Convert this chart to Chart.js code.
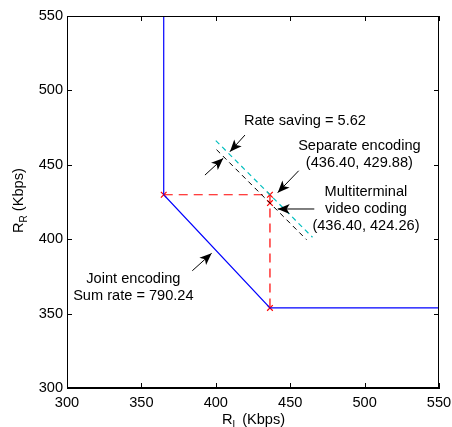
<!DOCTYPE html>
<html>
<head>
<meta charset="utf-8">
<script src="https://cdn.jsdelivr.net/npm/chart.js@4.4.1/dist/chart.umd.min.js"></script>
<style>
  html, body { margin: 0; padding: 0; background: #fff; }
  #wrap { width: 452px; height: 427px; }
</style>
</head>
<body>
<div id="wrap"><canvas id="chart" width="452" height="427"></canvas></div>
<script>
// rate region boundary (Kbps)
const boundaryX = [365, 365, 436.4, 550];
const boundaryY = [550, 429.88, 353.84, 353.84];

// separate encoding projection lines
const separateX = [365, 436.4, 436.4];
const separateY = [429.88, 429.88, 353.84];

// marked operating points
const markX = [365, 436.4, 436.4, 436.4];
const markY = [429.88, 429.88, 424.26, 353.84];

// equal sum-rate lines through the two operating points
const separateSumX = [400, 465];
const separateSumY = [466.28, 401.28];
const mtSumX = [400.5, 461];
const mtSumY = [460.16, 399.66];

const xTicks = [300, 350, 400, 450, 500, 550];
const yTicks = [300, 350, 400, 450, 500, 550];

// annotation text (centre in data coords) and arrows (tail -> tip)
const labels = [
  { x: 459.9, y: 479.4, lines: ['Rate saving = 5.62'] },
  { x: 496.5, y: 462.8, lines: ['Separate encoding', '(436.40, 429.88)'] },
  { x: 500.9, y: 431.5, lines: ['Multiterminal', 'video coding', '(436.40, 424.26)'] },
  { x: 344.6, y: 373.0, lines: ['Joint encoding', 'Sum rate = 790.24'] }
];
const arrows = [
  { x0: 419.6, y0: 470.0, x1: 409.5, y1: 458.8 },
  { x0: 392.7, y0: 443.1, x1: 405.0, y1: 454.4 },
  { x0: 455.7, y0: 446.0, x1: 441.6, y1: 431.3 },
  { x0: 466.2, y0: 420.3, x1: 441.6, y1: 420.3 },
  { x0: 384.2, y0: 378.8, x1: 397.2, y1: 390.5 }
];

const FONT = 'Liberation Sans, Arial, Helvetica, sans-serif';
const FS = 14.6;

function pts(xs, ys) {
  return xs.map((x, i) => ({ x: x, y: ys[i] }));
}

function arrowHead(ctx, x0, y0, x1, y1) {
  const a = Math.atan2(y1 - y0, x1 - x0);
  const len = 12, half = 5, back = 9;
  ctx.save();
  ctx.translate(x1, y1);
  ctx.rotate(a);
  ctx.beginPath();
  ctx.moveTo(0, 0);
  ctx.lineTo(-len, -half);
  ctx.lineTo(-back, 0);
  ctx.lineTo(-len, half);
  ctx.closePath();
  ctx.fill();
  ctx.restore();
}

const decorations = {
  id: 'decorations',
  afterDraw(chart) {
    const ctx = chart.ctx;
    const a = chart.chartArea;
    const sx = chart.scales.x, sy = chart.scales.y;
    ctx.save();

    // box + inward ticks
    ctx.strokeStyle = '#000';
    ctx.lineWidth = 1;
    ctx.strokeRect(Math.round(a.left) + 0.5, Math.round(a.top) + 0.5,
      Math.round(a.right - a.left) - 1, Math.round(a.bottom - a.top) - 1);
    ctx.beginPath();
    xTicks.forEach(v => {
      const px = Math.round(sx.getPixelForValue(v)) + 0.5;
      ctx.moveTo(px, a.bottom); ctx.lineTo(px, a.bottom - 5);
      ctx.moveTo(px, a.top); ctx.lineTo(px, a.top + 5);
    });
    yTicks.forEach(v => {
      const py = Math.round(sy.getPixelForValue(v)) + 0.5;
      ctx.moveTo(a.left, py); ctx.lineTo(a.left + 5, py);
      ctx.moveTo(a.right, py); ctx.lineTo(a.right - 5, py);
    });
    ctx.stroke();

    // axis titles with subscripts
    ctx.fillStyle = '#000';
    ctx.textBaseline = 'alphabetic';
    ctx.textAlign = 'left';
    const cx = (a.left + a.right) / 2;
    let x = cx - 31;
    const by = 424;
    ctx.font = FS + 'px ' + FONT;
    ctx.fillText('R', x, by);
    x += ctx.measureText('R').width;
    ctx.font = '10px ' + FONT;
    ctx.fillText('L', x, by + 4);
    x += ctx.measureText('L').width;
    ctx.font = FS + 'px ' + FONT;
    ctx.fillText(' (Kbps)', x, by);

    ctx.save();
    ctx.translate(23, (a.top + a.bottom) / 2);
    ctx.rotate(-Math.PI / 2);
    x = -31;
    ctx.font = FS + 'px ' + FONT;
    ctx.fillText('R', x, 0);
    x += ctx.measureText('R').width;
    ctx.font = '10px ' + FONT;
    ctx.fillText('R', x, 4);
    x += ctx.measureText('R').width;
    ctx.font = FS + 'px ' + FONT;
    ctx.fillText(' (Kbps)', x, 0);
    ctx.restore();

    // annotations
    ctx.font = FS + 'px ' + FONT;
    ctx.textAlign = 'center';
    ctx.textBaseline = 'middle';
    labels.forEach(l => {
      const px = sx.getPixelForValue(l.x);
      const py = sy.getPixelForValue(l.y);
      l.lines.forEach((t, i) => ctx.fillText(t, px, py + i * 16.8));
    });

    ctx.strokeStyle = '#000';
    ctx.lineWidth = 1;
    arrows.forEach(r => {
      const x0 = sx.getPixelForValue(r.x0), y0 = sy.getPixelForValue(r.y0);
      const x1 = sx.getPixelForValue(r.x1), y1 = sy.getPixelForValue(r.y1);
      ctx.beginPath();
      ctx.moveTo(x0, y0);
      ctx.lineTo(x1, y1);
      ctx.stroke();
      arrowHead(ctx, x0, y0, x1, y1);
    });

    ctx.restore();
  }
};

const lineSet = (data, color, dash, width) => ({
  data: data,
  showLine: true,
  borderColor: color,
  borderWidth: width || 1,
  borderDash: dash || [],
  pointRadius: 0,
  fill: false,
  tension: 0
});

new Chart(document.getElementById('chart'), {
  type: 'scatter',
  data: {
    datasets: [
      lineSet(pts(separateSumX, separateSumY), 'rgb(0,190,190)', [5, 4], 1.2),
      lineSet(pts(mtSumX, mtSumY), '#000', [5, 4], 1),
      lineSet(pts(separateX, separateY), 'rgb(255,0,0)', [9, 6], 1.2),
      lineSet(pts(boundaryX, boundaryY), 'rgb(0,0,255)', [], 1.2),
      {
        data: pts(markX, markY),
        showLine: false,
        pointStyle: 'crossRot',
        pointRadius: 4,
        pointBorderColor: 'rgb(255,0,0)',
        pointBorderWidth: 1.2
      }
    ]
  },
  options: {
    responsive: false,
    animation: false,
    layout: { padding: { top: 16, right: 13, left: 0, bottom: 0 } },
    plugins: { legend: { display: false }, tooltip: { enabled: false } },
    scales: {
      x: {
        type: 'linear',
        min: 300, max: 550,
        afterBuildTicks: s => { s.ticks = xTicks.map(v => ({ value: v })); },
        afterFit: s => { s.height = 39; s.paddingLeft = 0; s.paddingRight = 0; },
        ticks: { font: { size: FS, family: FONT }, color: '#000', padding: 6, maxRotation: 0 },
        grid: { display: false, drawTicks: false },
        border: { display: true, color: '#000' }
      },
      y: {
        type: 'linear',
        min: 300, max: 550,
        afterBuildTicks: s => { s.ticks = yTicks.map(v => ({ value: v })); },
        afterFit: s => { s.width = 67; s.paddingTop = 0; s.paddingBottom = 0; },
        ticks: { font: { size: FS, family: FONT }, color: '#000', padding: 4 },
        grid: { display: false, drawTicks: false },
        border: { display: true, color: '#000' }
      }
    }
  },
  plugins: [decorations]
});
</script>
</body>
</html>
